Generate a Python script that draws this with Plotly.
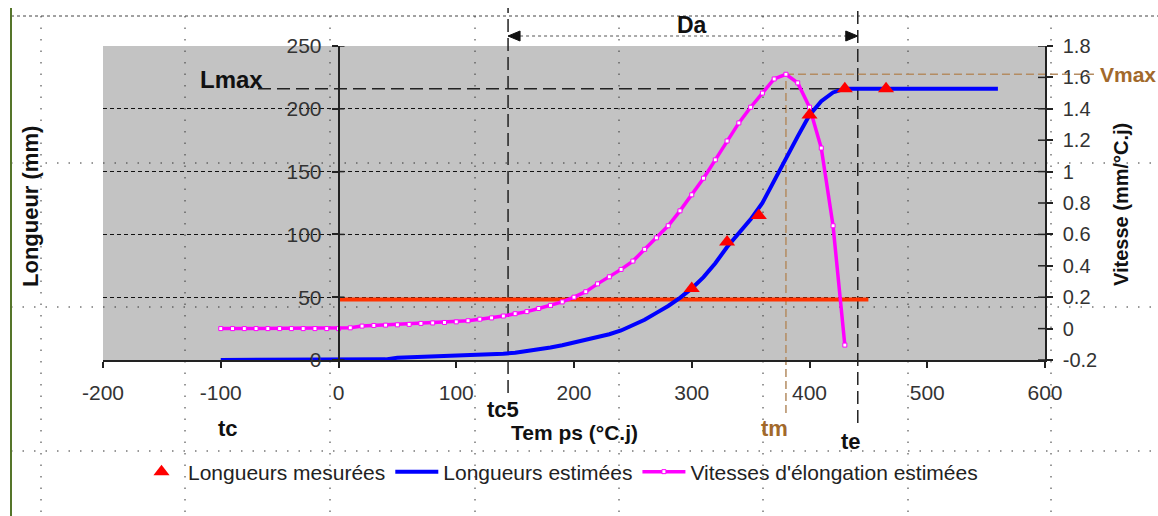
import plotly.graph_objects as go

# --- Données -------------------------------------------------------------
# Longueurs mesurées (mm) en fonction du temps thermique (°C.j)
t_mes = [300, 330, 357, 400, 430, 465]
L_mes = [57, 94, 115, 195, 216, 216]

# Longueurs estimées (mm), pas de 10 °C.j
t_est = list(range(-100, 561, 10))
L_est = [0, 0, 0, 0, 0, 0, 0, 0, 0, 0,
         0, 0, 0, 0, 0.5, 1.8, 2.1, 2.4, 2.7, 3.0,
         3.3, 3.6, 4.0, 4.4, 5.0, 5.8, 7.0, 8.4, 10.0, 11.8,
         13.8, 15.8, 18.0, 20.5, 23.5, 27.5, 32, 37.5, 43, 49.5,
         57, 66, 77, 90, 101, 112, 125, 143, 161, 178,
         195, 206, 213, 216, 216, 216, 216, 216, 216, 216,
         216, 216, 216, 216, 216, 216, 216]

# Vitesses d'élongation estimées (mm/°C.j), pas de 10 °C.j
t_vit = list(range(-100, 431, 10))
V_est = [0, 0, 0, 0, 0, 0, 0, 0, 0, 0,
         0, 0.005, 0.016, 0.020, 0.022, 0.024, 0.027, 0.033, 0.036, 0.039,
         0.043, 0.050, 0.060, 0.068, 0.080, 0.095, 0.108, 0.128, 0.148, 0.170,
         0.200, 0.235, 0.285, 0.330, 0.377, 0.430, 0.505, 0.578, 0.655, 0.750,
         0.852, 0.958, 1.075, 1.195, 1.310, 1.410, 1.500, 1.590, 1.620, 1.565,
         1.410, 1.150, 0.655, -0.105]

# Repères temporels et seuil de vitesse
tc = -100
tc5 = 144
te = 441
seuil_v = 0.185
t_seuil = [0, 450]

Lmax = max(L_est)
t_Lmax = t_est[L_est.index(Lmax)]
Vmax = max(V_est)
tm = t_vit[V_est.index(Vmax)]

# Axes
x_range = [-200, 600]
L_range = [0, 250]
V_range = [-0.2, 1.8]
x_ticks = [-200, -100, 0, 100, 200, 300, 400, 500, 600]
L_ticks = [0, 50, 100, 150, 200, 250]
V_ticks = [-0.2, 0, 0.2, 0.4, 0.6, 0.8, 1, 1.2, 1.4, 1.6, 1.8]
V_ticktext = ["-0.2", "0", "0.2", "0.4", "0.6", "0.8", "1", "1.2", "1.4", "1.6", "1.8"]

# --- Géométrie de la page ------------------------------------------------
W, H = 1158, 516
ML, MR, MT, MB = 103, 113, 46, 156
PW, PH = W - ML - MR, H - MT - MB


def pxp(px):
    return (px - ML) / PW


def pyp(py):
    return (H - MB - py) / PH


def xp(v):
    return (v - x_range[0]) / (x_range[1] - x_range[0])


def yl(v):
    return (v - L_range[0]) / (L_range[1] - L_range[0])


def yv(v):
    return (v - V_range[0]) / (V_range[1] - V_range[0])


FONT = "Liberation Sans, Arial, sans-serif"
BROWN = "#A2692B"
BROWN_LINE = "#B48C62"

fig = go.Figure()

# Seuil de vitesse (axe droit)
fig.add_trace(go.Scatter(
    x=t_seuil, y=[seuil_v, seuil_v], yaxis="y", mode="lines",
    line=dict(color="#FF3300", width=4), showlegend=False, hoverinfo="skip"))

# Vitesses d'élongation (axe droit)
fig.add_trace(go.Scatter(
    x=t_vit, y=V_est, yaxis="y", mode="lines+markers",
    name="Vitesses d'élongation estimées", legendrank=3,
    line=dict(color="#FF00FF", width=3.5),
    marker=dict(symbol="square", size=4, color="white",
                line=dict(color="#FF00FF", width=1))))

# Longueurs estimées (axe gauche)
fig.add_trace(go.Scatter(
    x=t_est, y=L_est, yaxis="y2", mode="lines",
    name="Longueurs estimées", legendrank=2,
    line=dict(color="#0000FF", width=4)))

# Longueurs mesurées (axe gauche)
fig.add_trace(go.Scatter(
    x=t_mes, y=L_mes, yaxis="y2", mode="markers",
    name="Longueurs mesurées", legendrank=1,
    marker=dict(symbol="triangle-up", size=14, color="#FF0000")))

shapes = []

# Quadrillage pointillé de la feuille
for px in [41, 185, 330, 475, 619, 763, 908, 1051]:
    shapes.append(dict(type="line", xref="paper", yref="paper",
                       x0=pxp(px), x1=pxp(px), y0=pyp(16), y1=pyp(H),
                       line=dict(color="#333", width=1, dash="1.5px,10px"),
                       layer="below"))
for py in [163, 307, 451]:
    shapes.append(dict(type="line", xref="paper", yref="paper",
                       x0=pxp(11), x1=pxp(W), y0=pyp(py), y1=pyp(py),
                       line=dict(color="#333", width=1, dash="1.5px,10px"),
                       layer="below"))
shapes.append(dict(type="line", xref="paper", yref="paper",
                   x0=pxp(11), x1=pxp(W), y0=pyp(16), y1=pyp(16),
                   line=dict(color="#444", width=1, dash="3px,3px"),
                   layer="below"))
# Bordure gauche de la fenêtre
shapes.append(dict(type="line", xref="paper", yref="paper",
                   x0=pxp(11), x1=pxp(11), y0=pyp(8), y1=pyp(H),
                   line=dict(color="#55752A", width=2), layer="below"))

# Repères tc5, te
for t, bottom in [(tc5, 393), (te, 423)]:
    shapes.append(dict(type="line", xref="paper", yref="paper",
                       x0=xp(t), x1=xp(t), y0=pyp(bottom), y1=pyp(8),
                       line=dict(color="#222", width=1.5, dash="13px,6px"),
                       layer="below"))
# Repère tm / Vmax
shapes.append(dict(type="line", xref="paper", yref="paper",
                   x0=xp(tm), x1=xp(tm), y0=pyp(413), y1=yv(Vmax),
                   line=dict(color=BROWN_LINE, width=1.5, dash="8px,4px"),
                   layer="below"))
shapes.append(dict(type="line", xref="paper", yref="paper",
                   x0=xp(tm), x1=pxp(1094), y0=yv(Vmax), y1=yv(Vmax),
                   line=dict(color=BROWN_LINE, width=1.5, dash="8px,4px"),
                   layer="below"))
# Lmax
shapes.append(dict(type="line", xref="paper", yref="paper",
                   x0=pxp(258), x1=xp(t_Lmax), y0=yl(Lmax), y1=yl(Lmax),
                   line=dict(color="#222", width=1.5, dash="13px,6px"),
                   layer="below"))
# Durée d'allongement Da
y_da = pyp(36)
shapes.append(dict(type="line", xref="paper", yref="paper",
                   x0=xp(tc5), x1=xp(te), y0=y_da, y1=y_da,
                   line=dict(color="#555", width=1, dash="dot"), layer="below"))
for t, path in [(tc5, "M0,0 L12,5 L12,-5 Z"), (te, "M0,0 L-12,5 L-12,-5 Z")]:
    shapes.append(dict(type="path", xref="paper", yref="paper",
                       xsizemode="pixel", ysizemode="pixel",
                       xanchor=xp(t), yanchor=y_da, path=path,
                       fillcolor="#111", line=dict(color="#111", width=1)))

# Graduations traversant les axes
for v in L_ticks:
    shapes.append(dict(type="line", xref="x", yref="y2", xsizemode="pixel",
                       xanchor=0, x0=0, x1=6, y0=v, y1=v,
                       line=dict(color="#222", width=1.5)))
for v in V_ticks:
    shapes.append(dict(type="line", xref="x", yref="y", xsizemode="pixel",
                       xanchor=x_range[1], x0=-7, x1=0, y0=v, y1=v,
                       line=dict(color="#222", width=1.5)))

bold = dict(family=FONT, weight="bold", color="#111")


def label(text, x, y, size, color="#111", angle=0, xanchor="center", xshift=0):
    return dict(text=text, xref="paper", yref="paper", x=x, y=y,
                xanchor=xanchor, yanchor="middle", xshift=xshift,
                textangle=angle, showarrow=False,
                font=dict(bold, size=size, color=color))


annotations = [
    label("Longueur (mm)", pxp(30), pyp(207), 22, angle=-90),
    label("Vitesse (mm/°C.j)", pxp(1121), pyp(205), 20, angle=-90),
    label("Tem ps (°C.j)", pxp(574), pyp(432), 21),
    label("Lmax", pxp(231), pyp(79), 24),
    label("Da", pxp(692), pyp(25), 23),
    label("tc", xp(tc), pyp(428), 22, xshift=7),
    label("tc5", xp(tc5), pyp(409), 22, xshift=-5),
    label("tm", xp(tm), pyp(428), 22, color=BROWN, xshift=-11),
    label("te", xp(te), pyp(441), 22, xshift=-7),
    label("Vmax", pxp(1098), yv(Vmax), 21, color=BROWN, xanchor="left"),
]

tickfont = dict(family=FONT, size=21, color="#333")
tickfont_r = dict(family=FONT, size=20, color="#333")
fig.update_layout(
    width=W, height=H,
    margin=dict(l=ML, r=MR, t=MT, b=MB, autoexpand=False),
    paper_bgcolor="white", plot_bgcolor="#C3C3C3",
    font=dict(family=FONT),
    xaxis=dict(range=x_range, tickvals=x_ticks, ticktext=[str(v) for v in x_ticks],
               showgrid=False, zeroline=False, showline=True, linecolor="#222",
               linewidth=1.5, ticks="outside", ticklen=6, tickcolor="#222",
               tickwidth=1.5, tickfont=tickfont, ticklabelstandoff=7),
    yaxis=dict(range=V_range, tickvals=V_ticks, ticktext=V_ticktext, side="right",
               showgrid=False, zeroline=False, showline=True, linecolor="#222",
               linewidth=1.5, ticks="outside", ticklen=6, tickcolor="#222",
               tickwidth=1.5, tickfont=tickfont_r, ticklabelstandoff=6),
    yaxis2=dict(range=L_range, tickvals=L_ticks, overlaying="y", anchor="free",
                position=xp(0), side="left", showgrid=True, gridcolor="#111",
                griddash="4px,3px", gridwidth=1, zeroline=False, showline=True,
                linecolor="#222", linewidth=1.5, ticks="outside", ticklen=6,
                tickcolor="#222", tickwidth=1.5, tickfont=tickfont,
                ticklabelstandoff=6),
    legend=dict(orientation="h", x=pxp(135), xanchor="left", y=pyp(472),
                yanchor="middle", bgcolor="rgba(0,0,0,0)",
                font=dict(family=FONT, size=21, color="#222"), itemwidth=43),
    shapes=shapes,
    annotations=annotations,
)

fig.write_html("out.html")
